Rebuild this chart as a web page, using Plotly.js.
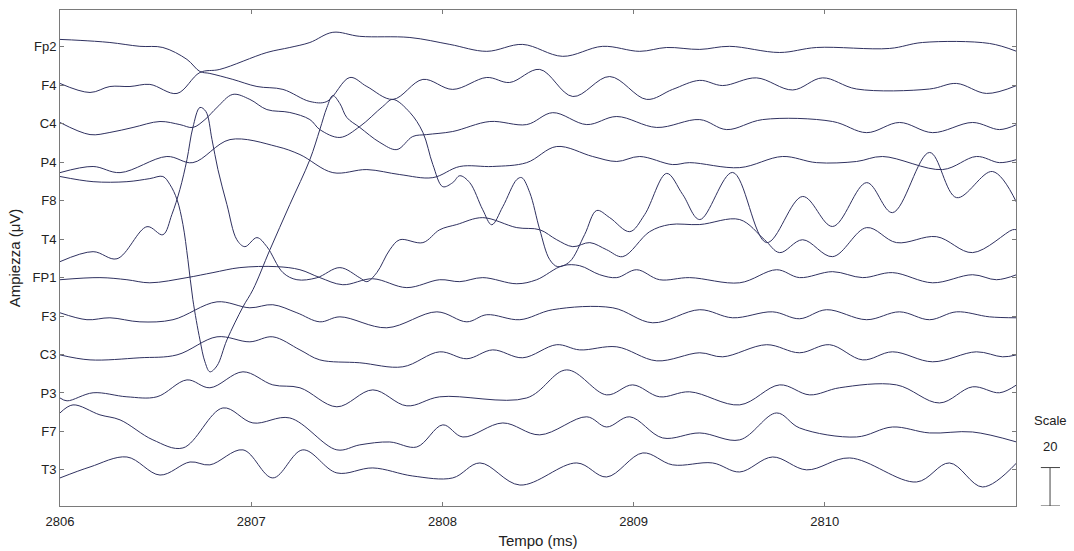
<!DOCTYPE html>
<html>
<head>
<meta charset="utf-8">
<script src="https://cdn.plot.ly/plotly-3.0.1.min.js"></script>
<style>html,body{margin:0;padding:0;background:#fff}#chart{width:1074px;height:551px}</style>
</head>
<body>
<div id="chart"></div>
<script>
// Channel labels (top to bottom) and their vertical slot on the axis
const channels = ["Fp2","F4","C4","P4","F8","T4","FP1","F3","C3","P3","F7","T3"];
const slots    = [12,11,10,9,8,7,6,5,4,3,2,1];
const T0 = 2806;           // start time (ms)
const scaleUV = 20;        // μV per channel spacing (scale bar)
const xTicks = [2806,2807,2808,2809,2810];

// time offsets from T0 (ms) and amplitude (μV) for every channel
const Fp2_t = [0,.105,.261,.418,.538,.664,.732,.784,.904,1.030,1.166,1.307,1.396,1.516,1.605,1.741,1.898,2.054,2.232,2.352,2.509,2.682,2.875,3.068,3.204,3.346,3.466,3.643,3.832,3.988,4.166,4.548,4.689,4.846,5.003];
const Fp2_v = [3.9,3.4,2.3,0.3,-0.3,-6.5,-12.8,-13.8,-16.9,-20.6,-22.1,-28.4,-28.4,-15.9,-20.6,-27.3,-16.9,-22.1,-15.9,-18.5,-11.7,-25.8,-15.4,-27.3,-22.1,-17.4,-20.1,-16.1,-22.4,-16.1,-21.9,-21.9,-19.0,-24.2,-20.1];

const F4_t = [0,.157,.261,.366,.470,.612,.732,.836,1.082,1.202,1.307,1.427,1.568,1.830,2.039,2.232,2.420,2.629,2.838,3.032,3.173,3.346,3.502,3.764,3.957,4.339,4.511,4.861,5.003];
const F4_v = [1.0,-3.7,-0.6,-0.6,0.5,-4.2,6.7,8.3,17.1,19.7,22.3,27.6,25.5,24.9,21.3,17.7,21.3,15.1,20.3,17.7,19.7,18.7,20.3,17.1,19.7,19.2,22.3,21.8,17.7];

const C4_t = [0,.157,.261,.382,.523,.627,.695,.758,.821,.904,.993,1.082,1.202,1.307,1.359,1.464,1.568,1.688,1.741,1.830,1.898,1.950,2.002,2.054,2.091,2.143,2.211,2.258,2.316,2.389,2.415,2.457,2.509,2.561,2.603,2.666,2.744,2.807,2.875,2.980,3.058,3.173,3.257,3.346,3.518,3.696,3.884,4.041,4.219,4.354,4.548,4.689,4.877,5.003];
const C4_v = [0.7,-5.6,-4.5,-1.9,1.2,-0.4,-1.9,2.2,8.5,15.3,12.7,7.4,5.9,2.2,-3.0,-7.1,-1.4,9.0,12.7,5.9,-4.5,-21.2,-32.7,-30.6,-27.0,-30.6,-44.7,-52.5,-43.1,-29.0,-28.0,-35.8,-55.0,-70.6,-74.3,-71.7,-57.6,-45.1,-48.8,-56.1,-47.2,-25.8,-36.8,-49.8,-25.3,-61.8,-37.8,-53.4,-30.6,-46.2,-14.9,-38.4,-24.8,-40.9];

const P4_t = [0,.173,.314,.559,.695,.889,1.134,1.255,1.427,1.605,1.777,1.950,2.091,2.263,2.441,2.598,2.786,2.912,3.032,3.204,3.293,3.555,3.779,3.957,4.166,4.302,4.616,4.793,4.914,5.003];
const P4_v = [-5.4,-2.2,-5.4,3.0,-0.2,11.8,8.2,4.0,-5.4,-3.8,-6.4,-8.0,-2.2,-2.2,-0.2,8.2,3.0,0.4,3.0,-1.2,-0.2,-2.8,3.0,-0.2,0.4,3.0,-3.8,3.0,-0.2,1.4];

const F8_t = [0,.173,.350,.470,.538,.575,.612,.643,.669,.695,.732,.758,.784,.821,.873,.957,1.009,1.098,1.202,1.307,1.359,1.396,1.427,1.464,1.500,1.568,1.673,1.762,1.845,1.918,2.054,2.248,2.441,2.577,2.755,2.912,3.121,3.346,3.487,3.675,4.041,4.219,4.391,4.564,4.773,4.914,5.003];
const F8_v = [12.6,9.9,9.9,11.5,12.6,8.4,0.6,-12.4,-30.7,-51.5,-72.4,-83.8,-89.0,-85.9,-72.4,-55.2,-46.3,-25.5,-2.0,21.4,37.0,48.5,54.7,50.5,43.3,38.1,30.3,26.6,33.4,34.4,36.0,41.2,39.6,45.8,39.6,43.8,38.1,42.2,37.0,42.2,41.2,35.4,40.7,35.4,40.7,37.0,39.6];

const T4_t = [0,.173,.298,.455,.538,.585,.627,.664,.695,.732,.763,.795,.826,.873,.925,.967,1.030,1.082,1.166,1.239,1.343,1.464,1.568,1.605,1.657,1.725,1.777,1.898,1.986,2.075,2.211,2.389,2.509,2.598,2.682,2.771,2.859,2.943,3.084,3.189,3.346,3.555,3.685,3.764,3.884,4.041,4.219,4.375,4.584,4.773,4.982,5.003];
const T4_v = [-11.7,-6.5,-10.2,6.5,2.3,12.8,25.8,41.4,58.1,68.5,66.4,51.8,36.2,18.0,-0.3,-3.9,0.8,-3.9,-17.4,-21.1,-20.1,-14.8,-20.1,-22.1,-17.4,-5.5,-0.3,-1.8,4.9,7.6,11.2,6.0,4.9,-0.3,-3.9,-1.8,-5.5,-9.1,3.9,7.6,7.6,10.2,-0.3,-7.0,-0.3,-9.1,6.0,-1.8,1.3,-7.0,4.9,4.9];

const FP1_t = [0,.209,.350,.470,.664,.800,.941,1.134,1.255,1.359,1.479,1.636,1.814,1.986,2.091,2.211,2.389,2.493,2.629,2.718,2.823,2.912,3.016,3.136,3.293,3.555,3.748,3.868,4.041,4.198,4.354,4.564,4.773,4.898,5.003];
const FP1_v = [-1.1,0,-1.1,-2.7,0,2.6,5.2,5.7,4.1,0,-3.7,-0.6,-5.2,-1.1,-2.1,0,-3.2,-1.1,6.2,6.2,1.5,0,4.1,-1.1,0,-2.7,4.1,0,3.1,0,2.6,-2.7,1.5,-1.1,1.5];

const F3_t = [0,.141,.261,.418,.591,.821,.993,1.113,1.239,1.359,1.464,1.709,1.971,2.128,2.232,2.405,2.577,2.891,3.100,3.346,3.518,3.727,3.868,4.009,4.219,4.391,4.548,4.689,4.861,5.003];
const F3_v = [1.7,-1.9,-0.9,-3.0,-1.9,7.4,4.3,5.9,1.7,-3.0,-0.4,-6.1,2.2,-3.0,0.7,-1.9,3.3,4.3,-3.5,3.3,-0.9,2.2,-1.4,3.3,-1.9,2.2,-1.9,2.2,-0.4,-0.9];

const C3_t = [0,.157,.418,.612,.821,.993,1.113,1.255,1.359,1.568,1.793,1.986,2.128,2.263,2.420,2.598,2.718,2.912,3.121,3.346,3.466,3.696,3.868,4.025,4.198,4.354,4.564,4.793,4.930,5.003];
const C3_v = [-0.2,-2.8,-1.7,-0.2,9.2,6.6,9.2,2.4,-2.8,-4.3,-6.4,1.4,-2.2,2.4,-1.7,5.1,2.4,4.0,-3.3,0.9,-1.2,5.1,0.9,5.1,-2.8,1.4,-3.8,1.4,-1.2,-0.2];

const P3_t = [0,.037,.173,.350,.507,.664,.784,.957,1.113,1.255,1.448,1.636,1.814,1.986,2.441,2.650,2.859,2.995,3.136,3.293,3.555,3.764,3.921,4.077,4.375,4.600,4.773,4.914,5.003];
const P3_v = [-2.6,-4.1,0.1,-2.0,-2.0,6.8,2.7,11.0,4.2,2.7,-7.2,1.6,-6.7,-2.0,-2.6,12.0,-1.0,4.2,-2.0,0.6,-6.2,4.2,-1.0,2.7,4.2,-5.2,3.2,0.1,4.2];

const F7_t = [0,.068,.209,.314,.486,.643,.852,1.009,1.202,1.448,1.568,1.725,1.866,2.002,2.107,2.316,2.509,2.755,2.859,2.980,3.152,3.346,3.555,3.748,3.868,4.166,4.354,4.548,4.773,5.003];
const F7_v = [9.6,13.8,8.6,6.0,-4.4,-8.6,12.2,4.4,7.0,-9.6,-7.0,-5.5,-8.1,3.4,-2.9,4.4,-1.8,7.6,2.3,7.6,-3.4,-0.8,-4.4,9.6,1.8,-2.9,2.3,-0.8,-0.3,-5.5];

const T3_t = [0,.157,.350,.523,.680,.784,.957,1.113,1.270,1.448,1.636,1.845,2.054,2.196,2.405,2.703,2.859,3.048,3.204,3.413,3.555,3.727,3.905,4.130,4.480,4.652,4.825,5.003];
const T3_v = [-4.2,1.5,6.7,-2.7,4.1,2.6,10.4,-4.2,10.4,-1.6,1.0,-3.2,-4.2,3.6,-7.9,3.6,-3.7,8.8,2.6,3.6,-1.1,6.7,0,6.2,-6.3,3.6,-8.9,3.6];

const series = {
  Fp2:[Fp2_t,Fp2_v], F4:[F4_t,F4_v], C4:[C4_t,C4_v], P4:[P4_t,P4_v],
  F8:[F8_t,F8_v], T4:[T4_t,T4_v], FP1:[FP1_t,FP1_v], F3:[F3_t,F3_v],
  C3:[C3_t,C3_v], P3:[P3_t,P3_v], F7:[F7_t,F7_v], T3:[T3_t,T3_v]
};

const lineColor = '#2f3160';
const traces = channels.map((name, i) => {
  const [t, v] = series[name];
  return {
    type: 'scatter', mode: 'lines', name: name,
    x: t.map(d => T0 + d),
    y: v.map(d => slots[i] + d / scaleUV),
    line: {color: lineColor, width: 1, shape: 'spline', smoothing: 1},
    hoverinfo: 'skip', showlegend: false
  };
});

const font = {family: 'Liberation Sans, Arial, Helvetica, sans-serif', size: 12, color: '#222'};
const axisCommon = {
  showline: true, linecolor: '#7a7a7a', linewidth: 1, mirror: 'ticks',
  ticks: 'inside', ticklen: 4, tickcolor: '#7a7a7a',
  showgrid: false, zeroline: false, fixedrange: true
};

const yLo = 0.06, yHi = 12.96;
const layout = {
  width: 1074, height: 551,
  margin: {l: 60, r: 58, t: 10, b: 45},
  paper_bgcolor: '#fff', plot_bgcolor: '#fff',
  font: font, showlegend: false,
  xaxis: Object.assign({}, axisCommon, {
    range: [T0, T0 + 5.0], tickvals: xTicks, ticktext: xTicks.map(String),
    tickfont: {size: 13}, ticklabelstandoff: 3,
    title: {text: 'Tempo (ms)', font: {size: 15}, standoff: 7}
  }),
  yaxis: Object.assign({}, axisCommon, {
    range: [yLo, yHi], tickvals: slots, ticktext: channels,
    tickfont: {size: 13},
    title: {text: 'Ampiezza (μV)', font: {size: 15}, standoff: 8}
  }),
  annotations: [
    {xref: 'paper', yref: 'paper', x: 1.0356, y: 0.173, text: 'Scale', showarrow: false, font: {size: 13}, xanchor: 'center', yanchor: 'middle'},
    {xref: 'paper', yref: 'paper', x: 1.0356, y: 0.119, text: String(scaleUV), showarrow: false, font: {size: 13}, xanchor: 'center', yanchor: 'middle'}
  ],
  shapes: [
    {type: 'line', xref: 'paper', yref: 'y', x0: 1.0356, x1: 1.0356, y0: yLo, y1: yLo + 1, line: {color: '#444', width: 1}},
    {type: 'line', xref: 'paper', yref: 'y', x0: 1.026, x1: 1.046, y0: yLo, y1: yLo, line: {color: '#444', width: 1}},
    {type: 'line', xref: 'paper', yref: 'y', x0: 1.026, x1: 1.046, y0: yLo + 1, y1: yLo + 1, line: {color: '#444', width: 1}}
  ]
};

Plotly.newPlot('chart', traces, layout, {displayModeBar: false, staticPlot: true});
</script>
</body>
</html>
